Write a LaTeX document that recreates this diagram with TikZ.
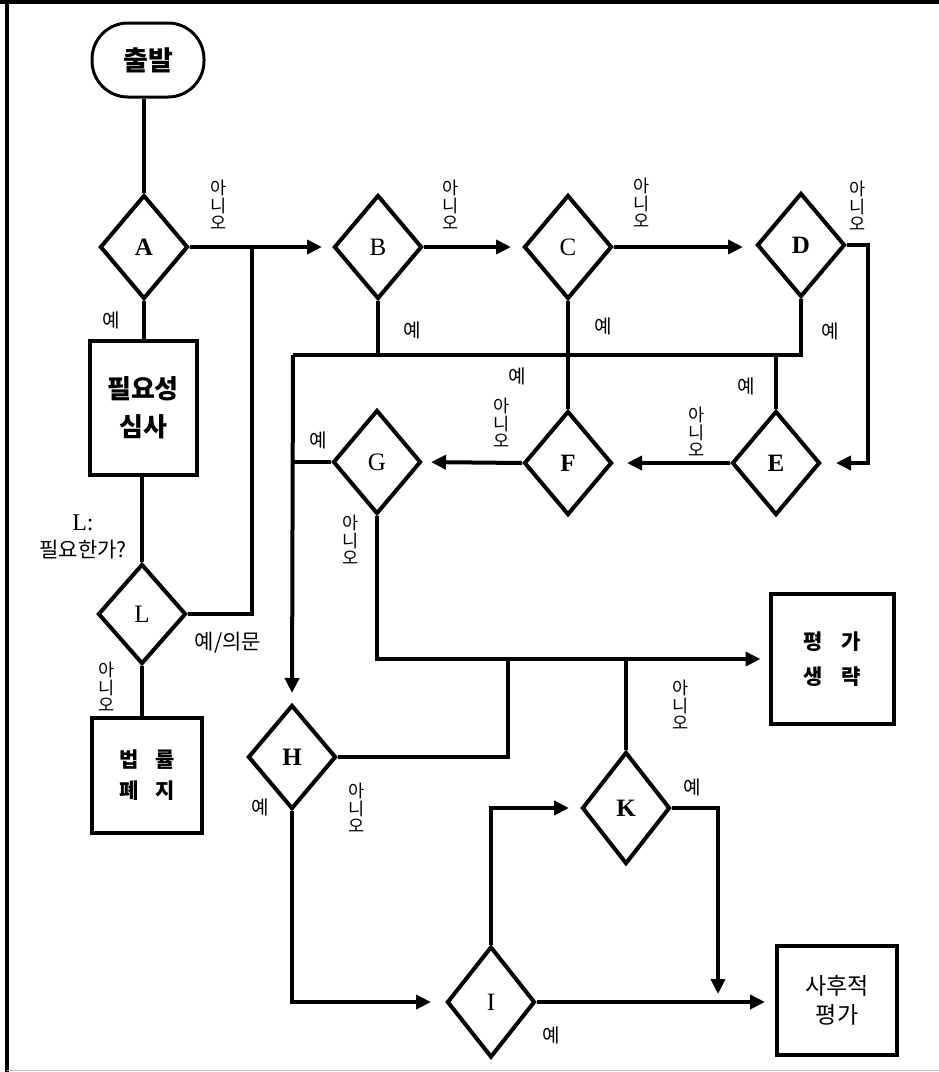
\documentclass[tikz,border=0pt]{standalone}
\usepackage{fontspec}
\setmainfont{Liberation Serif}
\newfontfamily\kr{Noto Sans CJK KR}
\usetikzlibrary{shapes.geometric,arrows.meta}
\begin{document}
\begin{tikzpicture}[x=1pt,y=-1pt,
  ln/.style={line width=4pt},
  arr/.style={line width=4pt,-{Triangle[length=15pt,width=14pt]}},
  dia/.style={diamond,draw,line width=4pt,inner sep=0pt,minimum width=88pt,minimum height=104pt,font=\fontsize{25}{25}\selectfont},
  boxnode/.style={draw,line width=4pt,inner sep=0pt,align=center},
  lbl/.style={font=\kr\fontsize{17.5}{17.6}\selectfont,align=center,inner sep=0pt},
  yeslbl/.style={font=\kr\fontsize{19}{19}\selectfont,inner sep=0pt},
]
\useasboundingbox (0,0) rectangle (939,1072);
% frame
\draw[line width=4pt] (0,2) -- (939,2);
\draw[line width=3.5pt] (7,0) -- (7,1072);
\draw[gray!50, line width=1pt] (7,1070.5) -- (939,1070.5);

% nodes
\node[draw,line width=3pt,rounded corners=36pt,minimum width=112pt,minimum height=74pt,inner sep=0pt,font=\kr\bfseries\fontsize{27}{27}\selectfont] (start) at (148,60) {출발};
\node[dia] (A) at (144,247) {\bfseries A};
\node[dia] (B) at (378,247) {B};
\node[dia] (C) at (568,247) {C};
\node[dia] (D) at (801,245) {\bfseries D};
\node[dia] (E) at (776,463) {\bfseries E};
\node[dia] (F) at (568,463) {\bfseries F};
\node[dia] (G) at (377,462) {G};
\node[dia] (H) at (292,757) {\bfseries H};
\node[dia,minimum height=111pt] (I) at (491,1002) {I};
\node[dia,minimum height=112pt] (K) at (626,808) {\bfseries K};
\node[dia,minimum height=100pt] (L) at (142,614) {L};

\node[boxnode,minimum width=107pt,minimum height=134pt,font=\kr\bfseries\fontsize{26}{38}\selectfont] (R) at (143,408) {필요성\\심사};
\node[boxnode,minimum width=110pt,minimum height=115pt,font=\kr\bfseries\fontsize{21}{31}\selectfont] (Z) at (147,775) {법 \hspace{12pt}률\\폐 \hspace{12pt}지};
\node[boxnode,minimum width=123pt,minimum height=130pt,font=\kr\bfseries\fontsize{21}{35}\selectfont] (P) at (832,659) {평 \hspace{14pt}가\\생 \hspace{14pt}략};
\node[boxnode,minimum width=120pt,minimum height=109pt,font=\kr\fontsize{23}{29}\selectfont] (S) at (837,1000) {사후적\\평가};

% junction coordinates
\coordinate (jA) at (252,247);
\coordinate (hL) at (293,355);
\coordinate (jH) at (508,659);
\coordinate (kd) at (718,994);

% connectors
\draw[ln] (start.south -| A) -- (A.north);
\draw[arr,shorten >=10pt] (A.east) -- (B.west);
\draw[ln] (L.east) -| (jA);
\draw[arr,shorten >=11pt] (B.east) -- (C.west);
\draw[arr,shorten >=12pt] (C.east) -- (C.east -| D.west);
\draw[arr,shorten >=14pt] (D.east) -- ++(21,0) |- (E.east);
\draw[ln] (B.south) -- (B.south |- hL);
\draw[ln] (D.south) |- (hL);
\draw[ln] (C.south) -- (F.north);
\draw[ln] (E.north) -- (E.north |- hL);
\draw[arr,shorten >=10pt] (hL) -- (H.north);
\draw[arr,shorten >=13pt] (E.west) -- (F.east);
\draw[arr,shorten >=8pt] (F.west) -- (G.east);
\draw[ln] (G.west) -- (G.west -| hL);
\draw[arr,shorten >=8pt] (G.south) |- (P.west);
\draw[ln] (H.east) -| (jH);
\draw[ln] (K.north) -- (K.north |- jH);
\draw[arr,shorten >=11pt] (I.north) |- (K.west);
\draw[arr] (K.east) -| (kd);
\draw[arr,shorten >=10pt] (I.east) -- (I.east -| S.west);
\draw[arr,shorten >=14pt] (H.south) |- (I.west);
\draw[ln] (A.south) -- (A.south |- R.north);
\draw[ln] (R.south -| L.north) -- (L.north);
\draw[ln] (L.south) -- (L.south |- Z.north);

% labels
\node[lbl] (n1) at (219,205) {아\\니\\오};
\node[lbl] (n2) at (451,205) {아\\니\\오};
\node[lbl] (n3) at (642,203) {아\\니\\오};
\node[lbl] (n4) at (858,206) {아\\니\\오};
\node[lbl] (n5) at (502,423) {아\\니\\오};
\node[lbl] (n6) at (697,432) {아\\니\\오};
\node[lbl] (n7) at (351,540) {아\\니\\오};
\node[lbl] (n8) at (357,808) {아\\니\\오};
\node[lbl] (n9) at (681,705) {아\\니\\오};
\node[lbl] (n10) at (107,687) {아\\니\\오};

\node[yeslbl] (y1) at (111,320) {예};
\node[yeslbl] (y2) at (412,330) {예};
\node[yeslbl] (y3) at (603,326) {예};
\node[yeslbl] (y4) at (830,331) {예};
\node[yeslbl] (y5) at (517,376) {예};
\node[yeslbl] (y6) at (746,386) {예};
\node[yeslbl] (y7) at (318,440) {예};
\node[yeslbl] (y8) at (260,807) {예};
\node[yeslbl] (y9) at (692,787) {예};
\node[yeslbl] (y10) at (551,1035) {예};

\node[align=center,inner sep=0pt,font=\fontsize{24}{27}\selectfont] (lq) at (83,537) {L:\\{\kr\fontsize{21}{27}\selectfont 필요한가?}};
\node[yeslbl,font=\kr\fontsize{21}{22}\selectfont] (yq) at (228,643) {예/의문};
\end{tikzpicture}
\end{document}
